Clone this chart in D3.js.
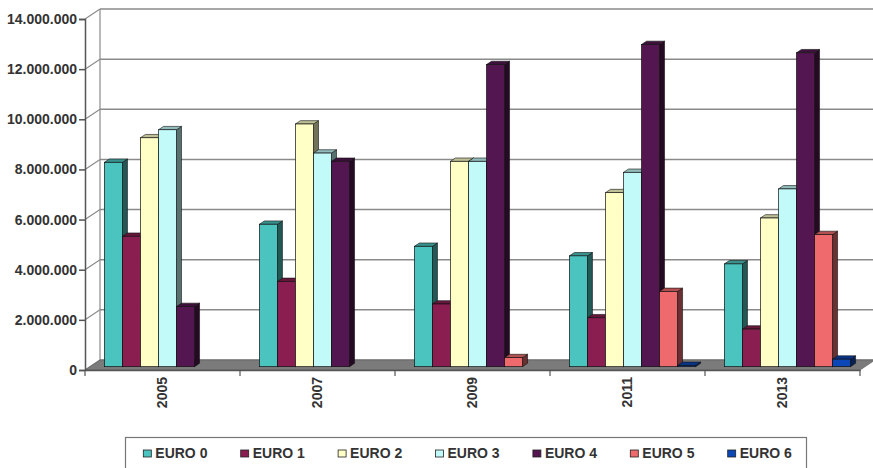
<!DOCTYPE html>
<html><head><meta charset="utf-8">
<script src="https://cdn.jsdelivr.net/npm/d3@7"></script>
<style>
body{margin:0;background:#fff}
text{font-family:"Liberation Sans",Arial,sans-serif;font-weight:bold;fill:#333}
</style>
</head><body><svg id="c" width="873" height="468"></svg>
<script>
const years = ["2005", "2007", "2009", "2011", "2013"];
const seriesNames = ["EURO 0", "EURO 1", "EURO 2", "EURO 3", "EURO 4", "EURO 5", "EURO 6"];
const euro0 = [8150000, 5680000, 4800000, 4420000, 4100000];
const euro1 = [5200000, 3400000, 2500000, 1950000, 1500000];
const euro2 = [9130000, 9680000, 8190000, 6940000, 5930000];
const euro3 = [9450000, 8520000, 8190000, 7750000, 7090000];
const euro4 = [2400000, 8190000, 12050000, 12850000, 12520000];
const euro5 = [0, 0, 360000, 3000000, 5270000];
const euro6 = [0, 0, 0, 50000, 300000];
const seriesColors = ["#4BC4BF", "#8B1E50", "#FFFFC6", "#C2FAFA", "#531650", "#EE6A6D", "#0B47B7"];
const yTicks = [0, 2000000, 4000000, 6000000, 8000000, 10000000, 12000000, 14000000];

(function () {
const seriesValues = [euro0, euro1, euro2, euro3, euro4, euro5, euro6];

const svg = d3.select("#c");
const DX = 15, DY = -10;           // chart depth offset
const pLeft = 85, pRight = 860, pBottom = 370, pTop = 19;

const y = d3.scaleLinear().domain([0, 14000000]).range([pBottom, pTop]);
const x0 = d3.scaleBand().domain(years).range([pLeft, pRight]);
const x1 = d3.scaleBand().domain(seriesNames).range([0, x0.bandwidth()]).paddingInner(0).paddingOuter(0.8);

const loc = d3.formatLocale({decimal: ",", thousands: ".", grouping: [3], currency: ["", ""]});
const fmt = loc.format(",d");

const gridColor = "#8a8a8a";

// back wall gridlines
const g = svg.append("g");
g.selectAll(".grid").data(yTicks).join("line")
  .attr("x1", pLeft + DX).attr("x2", pRight + DX)
  .attr("y1", d => y(d) + DY).attr("y2", d => y(d) + DY)
  .attr("stroke", gridColor).attr("stroke-width", 1.5);
// left wall diagonals
g.selectAll(".diag").data(yTicks).join("line")
  .attr("x1", pLeft).attr("x2", pLeft + DX)
  .attr("y1", d => y(d)).attr("y2", d => y(d) + DY)
  .attr("stroke", gridColor).attr("stroke-width", 1.2);
// back wall left edge
g.append("line")
  .attr("x1", pLeft + DX).attr("x2", pLeft + DX)
  .attr("y1", y(0) + DY).attr("y2", y(14000000) + DY)
  .attr("stroke", gridColor).attr("stroke-width", 1.2);

// floor
g.append("polygon")
  .attr("points", [[pLeft, y(0)], [pRight, y(0)], [pRight + DX, y(0) + DY], [pLeft + DX, y(0) + DY]].map(p => p.join(",")).join(" "))
  .attr("fill", "#7b7b7b").attr("stroke", "#666").attr("stroke-width", 0.8);

// bars
const bdx = DX / 3, bdy = DY / 3;
const scaleCol = (c, k) => { const r = d3.rgb(c); return d3.rgb(r.r * k, r.g * k, r.b * k).toString(); };
const barsG = svg.append("g");
years.forEach((yr, gi) => {
  seriesNames.forEach((s, si) => {
    const v = seriesValues[si][gi];
    if (!v) return;
    const fx = x0(yr) + x1(s) + bdx;
    const w = x1.bandwidth();
    const yb = y(0) + bdy, yt = y(v) + bdy;
    const col = seriesColors[si];
    const bg = barsG.append("g");
    bg.append("polygon")
      .attr("points", [[fx + w, yb], [fx + w + bdx, yb + bdy], [fx + w + bdx, yt + bdy], [fx + w, yt]].map(p => p.join(",")).join(" "))
      .attr("fill", scaleCol(col, 0.45)).attr("stroke", "#111").attr("stroke-width", 0.6).attr("stroke-linejoin", "round");
    bg.append("polygon")
      .attr("points", [[fx, yt], [fx + bdx, yt + bdy], [fx + w + bdx, yt + bdy], [fx + w, yt]].map(p => p.join(",")).join(" "))
      .attr("fill", scaleCol(col, 0.75)).attr("stroke", "#111").attr("stroke-width", 0.6).attr("stroke-linejoin", "round");
    bg.append("rect")
      .attr("x", fx).attr("y", yt).attr("width", w).attr("height", yb - yt)
      .attr("fill", col).attr("stroke", "#111").attr("stroke-width", 0.7);
  });
});

// left axis
const ax = svg.append("g").attr("transform", `translate(${pLeft},0)`)
  .call(d3.axisLeft(y).tickValues(yTicks).tickFormat(fmt).tickSizeOuter(0).tickSize(6).tickPadding(2));
ax.select(".domain").attr("stroke", "#555").attr("stroke-width", 1.5);
ax.selectAll(".tick line").attr("stroke", "#555").attr("stroke-width", 1.5);
ax.selectAll("text").attr("font-size", 14).attr("fill", "#333")
  .style("font-family", '"Liberation Sans",Arial,sans-serif').style("font-weight", "bold");

// bottom axis
const bx = svg.append("g").attr("transform", `translate(0,${pBottom})`)
  .call(d3.axisBottom(x0).tickSize(0).tickSizeOuter(0));
bx.select(".domain").attr("stroke", "#555").attr("stroke-width", 1.5);
bx.selectAll("text")
  .attr("transform", "rotate(-90)")
  .attr("x", -7).attr("y", 0).attr("dy", "0.35em")
  .attr("text-anchor", "end")
  .attr("font-size", 14).attr("fill", "#333")
  .style("font-family", '"Liberation Sans",Arial,sans-serif').style("font-weight", "bold");
const bounds = years.map(d => x0(d)).concat([x0.range()[1]]);
svg.append("g").selectAll("line").data(bounds).join("line")
  .attr("x1", d => d).attr("x2", d => d)
  .attr("y1", pBottom).attr("y2", pBottom + 6)
  .attr("stroke", "#555").attr("stroke-width", 1.2);

// legend
const lg = svg.append("g");
lg.append("rect").attr("x", 125.5).attr("y", 437.5).attr("width", 681).attr("height", 40)
  .attr("fill", "#fff").attr("stroke", "#777").attr("stroke-width", 1.2);
const lx = d3.scalePoint().domain(seriesNames).range([143.3, 727.7]);
const items = lg.selectAll(".li").data(seriesNames).join("g")
  .attr("transform", d => `translate(${lx(d)},0)`);
items.append("rect").attr("x", 0).attr("y", 450).attr("width", 8).attr("height", 7)
  .attr("fill", (d, i) => seriesColors[i]).attr("stroke", "#222").attr("stroke-width", 0.8);
items.append("text").attr("x", 12).attr("y", 458).attr("font-size", 14).text(d => d);
})();
</script>
</body></html>
